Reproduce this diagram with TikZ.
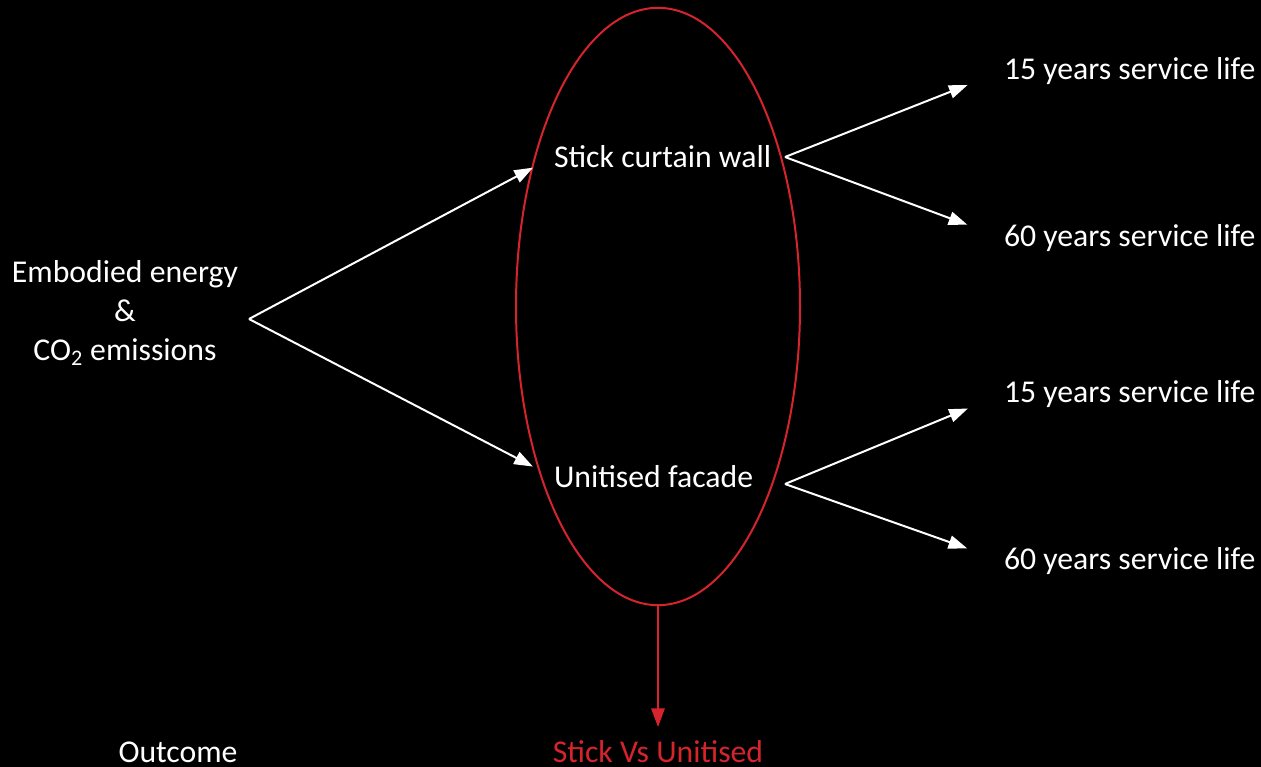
\documentclass[tikz,border=0pt]{standalone}
\usepackage{fontspec}
\setmainfont{Carlito}
\usetikzlibrary{arrows.meta,shapes.geometric}
\definecolor{ovalred}{RGB}{213,36,44}

\begin{document}
\begin{tikzpicture}[x=0.75pt,y=-0.75pt,>={Triangle[length=14pt,width=10pt]},line width=1.5pt,
  every node/.style={align=center,text=white,font=\fontsize{23.8}{29}\selectfont,inner sep=0pt}]
\fill[black] (0,0) rectangle (1261,767);
\node[ellipse,draw=ovalred,minimum width=213pt,minimum height=448pt] (oval) at (658,306.5) {};
\node (emb) at (125,313) {Embodied energy\\\&\\CO\textsubscript{2} emissions};
\node[anchor=west] (stick) at (553,157) {Stick curtain wall};
\node[anchor=west] (unit) at (553,477) {Unitised facade};
\node[anchor=west] (s15) at (1003,71) {15 years service life};
\node[anchor=west] (s60) at (1003,238) {60 years service life};
\node[anchor=west] (u15) at (1003,394) {15 years service life};
\node[anchor=west] (u60) at (1003,561) {60 years service life};
\node (outc) at (178,752) {Outcome};
\node[text=ovalred] (vs) at (658,752) {Stick Vs Unitised};
\coordinate (src) at (249,319);
\coordinate (sfork) at (785,157);
\coordinate (ufork) at (785,484);
\coordinate (tip) at (658,727);
% inputs
\draw[->,white,shorten >=17pt] (src)--(stick.west);
\draw[->,white,shorten >=17pt] (src)--(unit.west);
% service lives
\draw[->,white,shorten >=28.5pt] (sfork)--(s15.west);
\draw[->,white,shorten >=28.5pt] (sfork)--(s60.west);
\draw[->,white,shorten >=28.5pt] (ufork)--(u15.west);
\draw[->,white,shorten >=28.5pt] (ufork)--(u60.west);
\draw[->,ovalred] (oval.south)--(oval.south |- tip);
\end{tikzpicture}
\end{document}
